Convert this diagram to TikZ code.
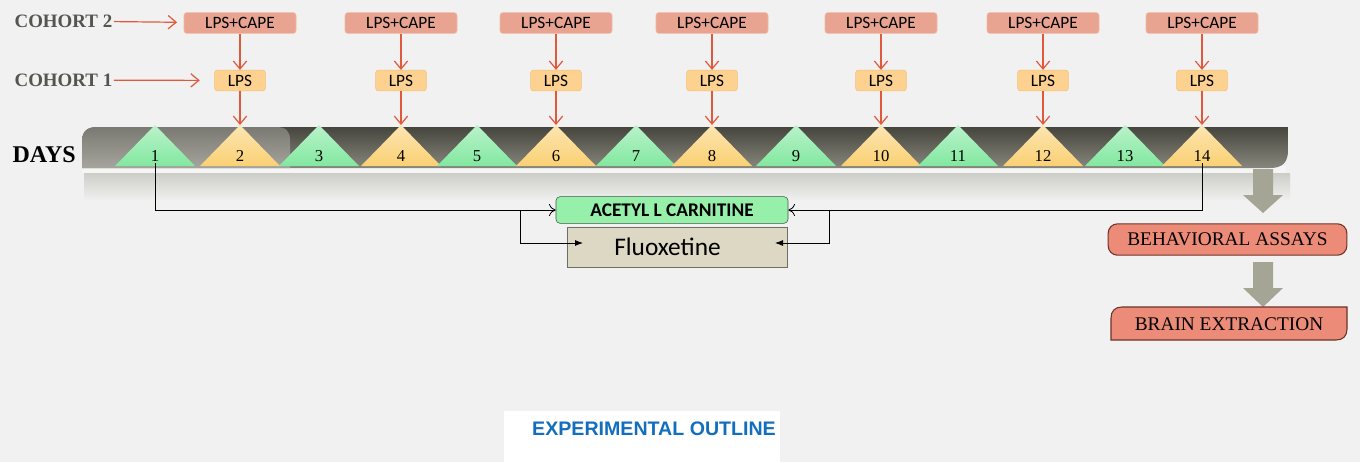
\documentclass[tikz,border=0pt]{standalone}
\usepackage{fontspec}
\setmainfont{Liberation Serif}
\newfontfamily\carlito{Carlito}
\newfontfamily\arialfont{Liberation Sans}
\usepackage{tikz}
\usetikzlibrary{arrows.meta}

\definecolor{bgcol}{RGB}{241,241,241}
\definecolor{capefill}{RGB}{232,163,145}
\definecolor{capeline}{RGB}{240,188,165}
\definecolor{lpsfill}{RGB}{253,210,145}
\definecolor{lpsline}{RGB}{245,192,115}
\definecolor{redline}{RGB}{226,88,58}
\definecolor{trigreen}{RGB}{130,232,160}
\definecolor{triyellow}{RGB}{250,208,115}
\definecolor{bartop}{RGB}{70,70,62}
\definecolor{barbot}{RGB}{135,135,125}
\definecolor{lighttop}{RGB}{122,122,115}
\definecolor{lightbot}{RGB}{165,165,157}
\definecolor{refltop}{RGB}{205,205,200}
\definecolor{alcfill}{RGB}{150,240,170}
\definecolor{alcline}{RGB}{60,90,70}
\definecolor{flxfill}{RGB}{221,216,196}
\definecolor{flxline}{RGB}{110,110,100}
\definecolor{outfill}{RGB}{236,140,120}
\definecolor{outline}{RGB}{110,50,40}
\definecolor{blockgrey}{RGB}{165,165,150}
\definecolor{cohortgrey}{RGB}{85,85,80}
\definecolor{titleblue}{RGB}{20,110,190}

\begin{document}
\begin{tikzpicture}[
    x=0.75pt, y=-0.75pt,
    cape/.style={rectangle, rounded corners=2pt, fill=capefill, draw=capeline, inner sep=0pt, minimum width=84pt, minimum height=15.5pt, font=\carlito\fontsize{13}{13}\selectfont},
    lps/.style={rectangle, rounded corners=2pt, fill=lpsfill, draw=lpsline, inner sep=0pt, minimum width=38pt, minimum height=15.5pt, font=\carlito\fontsize{13}{13}\selectfont},
    dose/.style={draw=redline, line width=0.9pt, -{Straight Barb[length=6pt,width=10pt]}},
    cohort/.style={anchor=west, inner sep=1pt, text=cohortgrey, font=\bfseries\fontsize{14.2}{14.2}\selectfont},
    daynum/.style={inner sep=1pt, font=\fontsize{12.5}{12.5}\selectfont},
    link/.style={draw=black, line width=0.6pt},
    outcome/.style={inner sep=0pt, font=\fontsize{14.5}{14.5}\selectfont},
]

% background
\fill[bgcol] (0,0) rectangle (1360,462);

% labels on the left
\node[cohort] (coh2) at (13,21) {COHORT 2};
\node[cohort] (coh1) at (13,80) {COHORT 1};
\node[anchor=west, inner sep=1pt, font=\bfseries\fontsize{18}{18}\selectfont] (days) at (11,155) {DAYS};

% day bar
\fill[white!92!gray] (82,166) rectangle (1286,173);
\shade[top color=refltop, bottom color=bgcol] (84,173) rectangle (1290,201);
\shade[top color=bartop, bottom color=barbot] (82,168) -- (82,142) .. controls (82,131) and (87,127) .. (98,127) -- (1288,127) -- (1288,150) .. controls (1288,162) and (1283,168) .. (1270,168) -- cycle;
\shade[top color=lighttop, bottom color=lightbot] (82,168) -- (82,142) .. controls (82,131) and (87,127) .. (98,127) -- (276,127) .. controls (286,127) and (290,131) .. (290,140) -- (290,168) -- cycle;

% days
\foreach \x [count=\d] in {155,240,319,401,477,556,636,712,796,881,958,1043,1125,1202} {
    \ifodd\d \def\tc{trigreen}\else\def\tc{triyellow}\fi
    \shade[top color=\tc!55!white, bottom color=\tc] (\x,125) -- (\x+40,166) -- (\x-40,166) -- cycle;
    \coordinate (top\d) at (\x,125);
    \node[daynum] (d\d) at (\x,156) {\d};
}

% injections
\foreach \x/\d in {240/2,401/4,556/6,712/8,881/10,1043/12,1202/14} {
    \node[cape] (cape\d) at (\x,23) {LPS+CAPE};
    \node[lps] (lps\d) at (\x,80.5) {LPS};
    \draw[dose] (cape\d) -- (lps\d);
    \draw[dose] (lps\d) -- (top\d);
}
\draw[dose, shorten >=5pt] (coh2) -- (cape2);
\draw[dose, shorten >=11pt] (coh1) -- (lps2);

% treatments
\node[rectangle, rounded corners=3pt, fill=alcfill, draw=alcline, inner sep=0pt, minimum width=174pt, minimum height=20pt, font=\carlito\bfseries\fontsize{14.5}{14.5}\selectfont] (alc) at (672,210) {ACETYL L CARNITINE};
\node[rectangle, fill=flxfill, draw=flxline, inner sep=0pt, minimum width=165pt, minimum height=30pt, font=\carlito\fontsize{19}{19}\selectfont] (flx) at (677.5,247) {Fluoxetine\hspace*{15pt}};

\coordinate (brL) at (520,210);
\coordinate (brR) at (829,210);
\coordinate (flxL) at (583,243);
\coordinate (flxR) at (775,243);
\draw[link, -{To[length=5pt,width=9pt]}] (d1.south) |- (alc.west);
\draw[link, -{To[length=5pt,width=9pt]}] (d14.south) |- (alc.east);
\draw[link, -{Latex[length=6pt,width=4.5pt]}] (brL) |- (flxL);
\draw[link, -{Latex[length=6pt,width=4.5pt]}] (brR) |- (flxR);

% outcomes
\fill[blockgrey] (1253,169) -- (1273,169) -- (1273,195) -- (1283,195) -- (1263,213) -- (1243,195) -- (1253,195) -- cycle;
\fill[blockgrey] (1253,262) -- (1273,262) -- (1273,288) -- (1283,288) -- (1263,307) -- (1243,288) -- (1253,288) -- cycle;
\node[outcome, rounded corners=7pt, fill=outfill, draw=outline, line width=0.8pt, minimum width=179pt, minimum height=23.5pt] (behav) at (1227.5,239.5) {BEHAVIORAL ASSAYS};
\draw[fill=outfill, draw=outline, line width=0.8pt] (1111,340) -- (1111,318) .. controls (1111,311) and (1115,307) .. (1122,307) -- (1347,307) -- (1347,329) .. controls (1347,336) and (1343,340) .. (1336,340) -- cycle;
\node[outcome] (brain) at (1229,324) {BRAIN EXTRACTION};

% caption
\fill[white] (504,411) rectangle (780,462);
\node[text=titleblue, font=\arialfont\bfseries\fontsize{14.7}{14.7}\selectfont] (title) at (654,429) {EXPERIMENTAL OUTLINE};

\end{tikzpicture}
\end{document}
